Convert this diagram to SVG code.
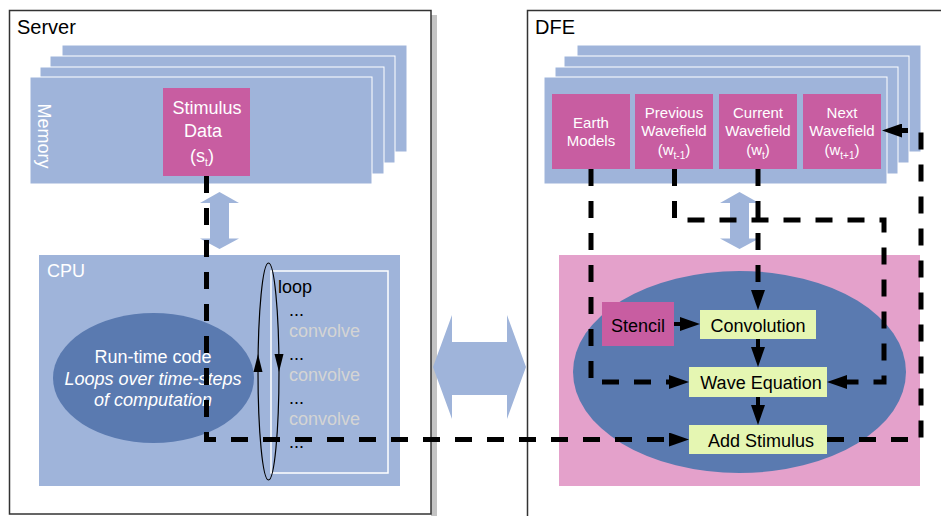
<svg xmlns="http://www.w3.org/2000/svg" width="941" height="516" viewBox="0 0 941 516">
  <style>
    text { font-family: "Liberation Sans", Arial, sans-serif; }
    .frame { fill: #ffffff; stroke: #333333; stroke-width: 1.5; }
    .shadow { fill: #c4c4c4; }
    .mem { fill: #9fb4da; stroke: #ffffff; stroke-width: 1; }
    .blue { fill: #9fb4da; }
    .dark { fill: #5a7ab0; }
    .pinkbox { fill: #c85da1; }
    .pinkbg { fill: #e4a1cb; }
    .green { fill: #e5f6b2; }
    .title { font-size: 20px; fill: #000000; }
    .wt { font-size: 18px; fill: #ffffff; }
    .wt15 { font-size: 15px; fill: #ffffff; }
    .bk { font-size: 18px; fill: #000000; }
    .gray { font-size: 18px; fill: #d4d4d4; }
    .sub { font-size: 10px; }
    .dash { fill: none; stroke: #000000; stroke-width: 5; stroke-dasharray: 17 15; }
    .solid { fill: none; stroke: #000000; stroke-width: 4; }
  </style>
  <defs>
    <marker id="head" markerUnits="userSpaceOnUse" markerWidth="20" markerHeight="14" refX="0" refY="7" orient="auto">
      <path d="M0,0 L20,7 L0,14 z" fill="#000000"/>
    </marker>
  </defs>

  <!-- Server frame -->
  <g id="server">
    <rect class="shadow" x="431" y="15" width="6" height="501"/>
    <rect class="frame" x="9.5" y="10.5" width="421.5" height="503.5"/>
    <text class="title" x="17" y="34">Server</text>
  </g>

  <!-- Server memory stack -->
  <g id="server-memory">
    <rect class="mem" x="62" y="45" width="345" height="107"/>
    <rect class="mem" x="50" y="56" width="345" height="107"/>
    <rect class="mem" x="40" y="67" width="344" height="107"/>
    <rect class="mem" x="30" y="77" width="342" height="107"/>
    <text class="wt" fill="#f2f2f8" transform="translate(38,136) rotate(90)" text-anchor="middle">Memory</text>
  </g>

  <g id="stimulus-data">
    <rect class="pinkbox" x="163" y="88" width="87" height="88"/>
    <text class="wt" x="207" y="114" text-anchor="middle">Stimulus</text>
    <text class="wt" x="203" y="137" text-anchor="middle">Data</text>
    <text class="wt" x="202" y="162" text-anchor="middle">(s<tspan class="sub" dy="4">t</tspan><tspan dy="-4">)</tspan></text>
  </g>

  <!-- memory <-> CPU -->
  <g id="server-bus">
    <polygon class="blue" points="219.5,192 239,203 229,203 229,238.5 239,238.5 219.5,249 200,238.5 210,238.5 210,203 200,203"/>
  </g>

  <g id="cpu">
    <rect class="blue" x="39" y="255" width="361" height="231"/>
    <text class="wt" x="47" y="277">CPU</text>
  </g>

  <g id="runtime-code">
    <ellipse class="dark" cx="153.5" cy="378" rx="100.5" ry="65"/>
    <text class="wt" x="153" y="363" text-anchor="middle">Run-time code</text>
    <text class="wt" x="153" y="385" text-anchor="middle" font-style="italic">Loops over time-steps</text>
    <text class="wt" x="153" y="406" text-anchor="middle" font-style="italic">of computation</text>
  </g>

  <g id="loop-body">
    <rect x="271" y="271" width="117" height="202" fill="none" stroke="#ffffff" stroke-width="1.5"/>
    <text class="bk" x="278" y="293">loop</text>
    <text class="bk" x="289" y="316">...</text>
    <text class="gray" x="289" y="337">convolve</text>
    <text class="bk" x="289" y="360">...</text>
    <text class="gray" x="289" y="381">convolve</text>
    <text class="bk" x="289" y="404">...</text>
    <text class="gray" x="289" y="425">convolve</text>
    <text class="bk" x="289" y="448">...</text>
  </g>

  <g id="loop-cycle">
    <ellipse cx="268.5" cy="371.5" rx="10.5" ry="108.5" fill="none" stroke="#000000" stroke-width="1.2"/>
    <polygon points="258,354 262.5,372 253.5,372" fill="#000000"/>
    <polygon points="279,372 283.5,354 274.5,354" fill="#000000"/>
  </g>

  <!-- host <-> DFE link -->
  <g id="host-link">
    <polygon class="blue" points="433,367 452,315 452,342 507,342 507,315 526,367 507,419 507,395 452,395 452,419"/>
  </g>

  <!-- DFE frame -->
  <g id="dfe">
    <rect class="frame" x="527.5" y="10.5" width="500" height="520"/>
    <text class="title" x="535" y="34">DFE</text>
  </g>

  <g id="dfe-memory">
    <rect class="mem" x="577" y="45" width="344" height="107"/>
    <rect class="mem" x="564" y="56" width="345" height="107"/>
    <rect class="mem" x="555" y="67" width="343" height="107"/>
    <rect class="mem" x="544" y="77" width="343" height="107"/>
  </g>

  <g id="earth-models">
    <rect class="pinkbox" x="552" y="94" width="78" height="75"/>
    <text class="wt15" x="591" y="128" text-anchor="middle">Earth</text>
    <text class="wt15" x="591" y="146" text-anchor="middle">Models</text>
  </g>
  <g id="previous-wavefield">
    <rect class="pinkbox" x="635" y="94" width="78" height="75"/>
    <text class="wt15" x="674" y="118" text-anchor="middle">Previous</text>
    <text class="wt15" x="674" y="136" text-anchor="middle">Wavefield</text>
    <text class="wt15" x="674" y="155" text-anchor="middle">(w<tspan class="sub" font-size="9" dy="4">t-1</tspan><tspan dy="-4">)</tspan></text>
  </g>
  <g id="current-wavefield">
    <rect class="pinkbox" x="719" y="94" width="78" height="75"/>
    <text class="wt15" x="758" y="118" text-anchor="middle">Current</text>
    <text class="wt15" x="758" y="136" text-anchor="middle">Wavefield</text>
    <text class="wt15" x="758" y="155" text-anchor="middle">(w<tspan class="sub" font-size="9" dy="4">t</tspan><tspan dy="-4">)</tspan></text>
  </g>
  <g id="next-wavefield">
    <rect class="pinkbox" x="803" y="94" width="78" height="75"/>
    <text class="wt15" x="842" y="118" text-anchor="middle">Next</text>
    <text class="wt15" x="842" y="136" text-anchor="middle">Wavefield</text>
    <text class="wt15" x="842" y="155" text-anchor="middle">(w<tspan class="sub" font-size="9" dy="4">t+1</tspan><tspan dy="-4">)</tspan></text>
  </g>

  <g id="dfe-bus">
    <polygon class="blue" points="739.5,192 759,203 749,203 749,238.5 759,238.5 739.5,249 720,238.5 730,238.5 730,203 720,203"/>
  </g>

  <g id="kernel">
    <rect class="pinkbg" x="559" y="255" width="361" height="231"/>
    <ellipse class="dark" cx="739.5" cy="372" rx="166.5" ry="101"/>
  </g>

  <g id="stencil">
    <rect class="pinkbox" x="602" y="302" width="72" height="44"/>
    <text class="bk" x="638" y="332" text-anchor="middle">Stencil</text>
  </g>
  <g id="convolution">
    <rect class="green" x="700" y="310" width="116" height="29"/>
    <text class="bk" x="758" y="332" text-anchor="middle">Convolution</text>
  </g>
  <g id="wave-equation">
    <rect class="green" x="689" y="367" width="138" height="30"/>
    <text class="bk" x="761" y="389" text-anchor="middle">Wave Equation</text>
  </g>
  <g id="add-stimulus">
    <rect class="green" x="689" y="425" width="138" height="29"/>
    <text class="bk" x="761" y="447" text-anchor="middle">Add Stimulus</text>
  </g>

  <!-- data flow -->
  <g id="connectors">
    <path class="solid" d="M674,324 H680" marker-end="url(#head)"/>
    <path class="solid" d="M758,339 V347" marker-end="url(#head)"/>
    <path class="solid" d="M758,397 V405" marker-end="url(#head)"/>
    <path class="dash" d="M206.5,176 V439.5 H669" marker-end="url(#head)"/>
    <path class="dash" d="M591,169 V382 H669" marker-end="url(#head)"/>
    <path class="dash" d="M674.5,169 V220 H884 V382 H847" marker-end="url(#head)"/>
    <path class="dash" d="M758,169 V290" marker-end="url(#head)"/>
    <path class="dash" d="M827,439.5 H921 V130.5 H902" marker-end="url(#head)"/>
  </g>
</svg>
